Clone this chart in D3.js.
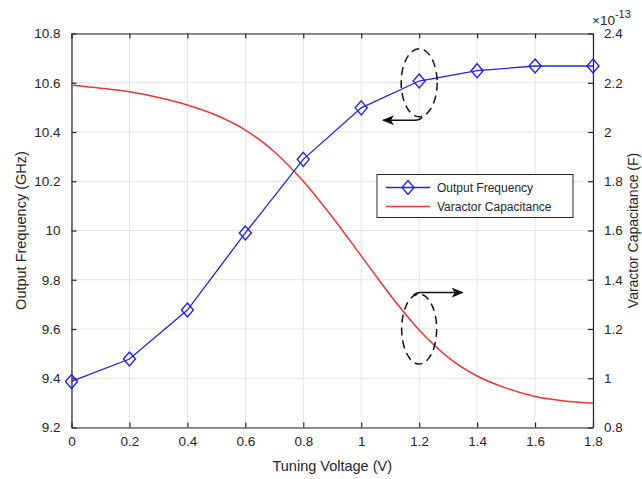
<!DOCTYPE html>
<html>
<head>
<meta charset="utf-8">
<script src="https://cdn.jsdelivr.net/npm/d3@7"></script>
<style>
  body { margin: 0; background: #fff; }
  svg text { font-family: "Liberation Sans", Arial, sans-serif; fill: #262626; }
</style>
</head>
<body>
<div id="chart"></div>
<script>
// === Data ===
const voltage = [0, 0.2, 0.4, 0.6, 0.8, 1.0, 1.2, 1.4, 1.6, 1.8];
const frequency = [9.387, 9.478, 9.677, 9.99, 10.289, 10.498, 10.607, 10.649, 10.668, 10.668];

const capVoltage = [0, 0.1, 0.2, 0.3, 0.4, 0.5, 0.6, 0.7, 0.8, 0.9, 1.0, 1.1, 1.2, 1.3, 1.4, 1.5, 1.6, 1.7, 1.8];
const capacitance = [2.19, 2.178, 2.163, 2.14, 2.11, 2.068, 2.008, 1.92, 1.80, 1.655, 1.497, 1.338, 1.196, 1.085, 1.009, 0.96, 0.926, 0.908, 0.899];

const xTicks = [0, 0.2, 0.4, 0.6, 0.8, 1, 1.2, 1.4, 1.6, 1.8];
const leftTicks = [9.2, 9.4, 9.6, 9.8, 10, 10.2, 10.4, 10.6, 10.8];
const rightTicks = [0.8, 1, 1.2, 1.4, 1.6, 1.8, 2, 2.2, 2.4];

// === Layout ===
const width = 642, height = 479;
const margin = { top: 33.5, right: 49, bottom: 51.5, left: 71.5 };
const iw = width - margin.left - margin.right;
const ih = height - margin.top - margin.bottom;

const x = d3.scaleLinear().domain([0, 1.8]).range([0, iw]);
const yL = d3.scaleLinear().domain([9.2, 10.8]).range([ih, 0]);
const yR = d3.scaleLinear().domain([0.8, 2.4]).range([ih, 0]);

const blue = "#2323e6", red = "#e8383a", axisCol = "#262626";

const svg = d3.select("#chart").append("svg")
  .attr("width", width).attr("height", height);

const defs = svg.append("defs");
defs.append("marker")
  .attr("id", "arrow").attr("viewBox", "0 0 12 10")
  .attr("refX", 11).attr("refY", 5)
  .attr("markerWidth", 12).attr("markerHeight", 10)
  .attr("markerUnits", "userSpaceOnUse")
  .attr("orient", "auto")
  .append("path").attr("d", "M0,0 L12,5 L0,10 L3,5 Z").attr("fill", "#111");

const g = svg.append("g").attr("transform", `translate(${margin.left},${margin.top})`);

// === Grid ===
g.append("g").selectAll("line").data(xTicks).join("line")
  .attr("x1", d => x(d)).attr("x2", d => x(d)).attr("y1", 0).attr("y2", ih)
  .attr("stroke", "#e3e3e3").attr("stroke-width", 1);
g.append("g").selectAll("line").data(leftTicks).join("line")
  .attr("x1", 0).attr("x2", iw).attr("y1", d => yL(d)).attr("y2", d => yL(d))
  .attr("stroke", "#e3e3e3").attr("stroke-width", 1);

// === Axes (MATLAB style, inward ticks) ===
const fmt = d => String(+d.toFixed(1));
function styleAxis(sel) {
  sel.select(".domain").attr("stroke", axisCol).attr("stroke-width", 1.2);
  sel.selectAll(".tick line").attr("stroke", axisCol).attr("stroke-width", 1.2);
  sel.selectAll(".tick text").attr("font-size", 13.5).attr("fill", axisCol);
}
const xAxis = g.append("g").attr("transform", `translate(0,${ih})`)
  .call(d3.axisBottom(x).tickValues(xTicks).tickFormat(fmt).tickSizeInner(-5).tickSizeOuter(0).tickPadding(9));
styleAxis(xAxis);
const xTop = g.append("g")
  .call(d3.axisTop(x).tickValues(xTicks).tickFormat("").tickSizeInner(-5).tickSizeOuter(0));
styleAxis(xTop);
const yAxisL = g.append("g")
  .call(d3.axisLeft(yL).tickValues(leftTicks).tickFormat(fmt).tickSizeInner(-5).tickSizeOuter(0).tickPadding(11));
styleAxis(yAxisL);
const yAxisR = g.append("g").attr("transform", `translate(${iw},0)`)
  .call(d3.axisRight(yR).tickValues(rightTicks).tickFormat(fmt).tickSizeInner(-5).tickSizeOuter(0).tickPadding(11));
styleAxis(yAxisR);

// === Capacitance curve ===
g.append("path")
  .datum(capVoltage.map((v, i) => [v, capacitance[i]]))
  .attr("fill", "none").attr("stroke", red).attr("stroke-width", 1.5)
  .attr("d", d3.line().x(d => x(d[0])).y(d => yR(d[1])).curve(d3.curveMonotoneX));

// === Frequency line + diamonds ===
const freqData = voltage.map((v, i) => [v, frequency[i]]);
g.append("path").datum(freqData)
  .attr("fill", "none").attr("stroke", blue).attr("stroke-width", 1.3)
  .attr("d", d3.line().x(d => x(d[0])).y(d => yL(d[1])));
const diamond = "M0,-7 L6,0 L0,7 L-6,0 Z";
g.append("g").selectAll("path").data(freqData).join("path")
  .attr("transform", d => `translate(${x(d[0])},${yL(d[1])})`)
  .attr("d", diamond).attr("fill", "none").attr("stroke", blue).attr("stroke-width", 1.4);

// === Annotations ===
const ann = g.append("g").attr("fill", "none").attr("stroke", "#111").attr("stroke-width", 1.5);
ann.append("ellipse")
  .attr("cx", x(1.2)).attr("cy", yL(10.6)).attr("rx", 18).attr("ry", 34)
  .attr("stroke-dasharray", "8,5");
ann.append("path")
  .attr("d", `M${x(1.2) + 3},${yL(10.448) - 3} Q${x(1.2)},${yL(10.448)} ${x(1.2) - 4},${yL(10.448)} L${x(1.075)},${yL(10.448)}`)
  .attr("marker-end", "url(#arrow)");
ann.append("ellipse")
  .attr("cx", x(1.2)).attr("cy", yR(1.2)).attr("rx", 17.5).attr("ry", 35)
  .attr("stroke-dasharray", "8,5");
ann.append("path")
  .attr("d", `M${x(1.19) - 3},${yR(1.348) + 3} Q${x(1.19)},${yR(1.348)} ${x(1.19) + 4},${yR(1.348)} L${x(1.35)},${yR(1.348)}`)
  .attr("marker-end", "url(#arrow)");

// === Axis titles ===
svg.append("text")
  .attr("transform", `translate(21,${margin.top + ih / 2}) rotate(-90)`)
  .attr("text-anchor", "middle").attr("dominant-baseline", "central")
  .attr("font-size", 14.5).text("Output Frequency (GHz)");
svg.append("text")
  .attr("transform", `translate(633,${margin.top + ih / 2}) rotate(-90)`)
  .attr("text-anchor", "middle").attr("dominant-baseline", "central")
  .attr("font-size", 14).text("Varactor Capacitance (F)");
svg.append("text")
  .attr("x", margin.left + iw / 2).attr("y", 471)
  .attr("text-anchor", "middle").attr("font-size", 14.5).text("Tuning Voltage (V)");

// === Exponent label ===
const expo = svg.append("text").attr("x", 592).attr("y", 25).attr("font-size", 13.5);
expo.append("tspan").text("\u00d710");
expo.append("tspan").attr("dy", -7).attr("font-size", 11).text("-13");

// === Legend ===
const lg = svg.append("g").attr("transform", "translate(377,174.5)");
lg.append("rect").attr("width", 196).attr("height", 43)
  .attr("fill", "#fff").attr("stroke", axisCol).attr("stroke-width", 1);
lg.append("line").attr("x1", 9).attr("x2", 53).attr("y1", 13).attr("y2", 13)
  .attr("stroke", blue).attr("stroke-width", 1.3);
lg.append("path").attr("transform", "translate(31,13)").attr("d", diamond)
  .attr("fill", "none").attr("stroke", blue).attr("stroke-width", 1.4);
lg.append("line").attr("x1", 9).attr("x2", 53).attr("y1", 32).attr("y2", 32)
  .attr("stroke", red).attr("stroke-width", 1.5);
lg.append("text").attr("x", 60).attr("y", 17.5).attr("font-size", 12).text("Output Frequency");
lg.append("text").attr("x", 60).attr("y", 36.5).attr("font-size", 12).text("Varactor Capacitance");
</script>
</body>
</html>
